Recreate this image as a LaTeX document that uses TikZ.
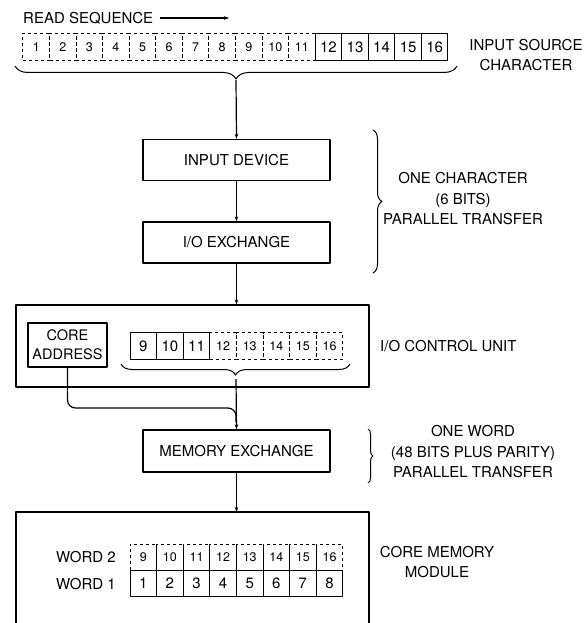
\documentclass[tikz,border=0pt]{standalone}
\usepackage{fontspec}
\setmainfont{TeX Gyre Heros}
\usetikzlibrary{arrows.meta,decorations.pathreplacing,positioning}

\tikzset{
    lbl/.style={font=\fontsize{15}{20.5}\selectfont, inner sep=1pt},
    box/.style={draw, line width=1.3pt, minimum width=187pt, minimum height=41pt,
        font=\fontsize{15}{20}\selectfont},
    cell/.style={draw, line width=1pt, minimum width=26.6pt, minimum height=27pt,
        inner sep=0pt, font=\fontsize{15}{16}\selectfont},
    dcell/.style={cell, dashed, font=\fontsize{12.5}{13}\selectfont},
    arr/.style={line width=1.2pt, -{Stealth[length=5pt,width=3.5pt]}},
    brc/.style={line width=1pt, decorate, decoration={brace, amplitude=#1}},
}

\begin{document}
\begin{tikzpicture}[x=1pt,y=-1pt,line join=round]
    \useasboundingbox (0,0) rectangle (585,623);

    % source character
    \node[lbl, anchor=west] (readseq) at (22,18) {READ SEQUENCE};
    \coordinate (readend) at (229,18);
    \draw[arr] ([xshift=6pt]readseq.east) -- (readend);

    \foreach \i in {1,...,11} {
        \node[dcell] (src\i) at ({23+26.56*(\i-0.5)},47) {\i};
    }
    \foreach \i in {12,...,16} {
        \node[cell] (src\i) at ({23+26.56*(\i-0.5)},47) {\i};
    }
    \node[lbl, align=center] (srclbl) at (526,55) {INPUT SOURCE\\CHARACTER};

    \draw[brc=13pt] (457,66) -- (15,66);
    \coordinate (srcbr) at (236,80);

    % character transfer
    \node[box] (indev) at (236.5,160) {INPUT DEVICE};
    \node[box] (ioex) at (236.5,242.5) {I/O EXCHANGE};
    \draw[arr] (srcbr) -- (indev.north);
    \draw[arr] (indev) -- (ioex);

    \draw[brc=9pt] (373,130) -- (373,273);
    \node[lbl, align=center] (charlbl) at (463,199) {ONE CHARACTER\\(6 BITS)\\PARALLEL TRANSFER};

    % control unit
    \node[draw, line width=1.3pt, minimum width=353pt, minimum height=82pt] (ctrl) at (192.5,346) {};
    \draw[arr] (ioex.south) -- (ioex.south |- ctrl.north);
    \node[draw, line width=1.3pt, minimum width=79pt, minimum height=44pt, align=center,
        inner sep=0pt, font=\fontsize{14.5}{19}\selectfont] (addr) at (67.5,345) {CORE\\ADDRESS};

    \foreach \i in {9,10,11} {
        \node[cell] (buf\i) at ({130+26.6*(\i-8.5)},346) {\i};
    }
    \foreach \i in {12,...,16} {
        \node[dcell] (buf\i) at ({130+26.6*(\i-8.5)},346) {\i};
    }
    \node[lbl, anchor=west] (ctrllbl) at (379,346) {I/O CONTROL UNIT};

    \draw[brc=11pt] (350,364) -- (121,364);
    \coordinate (ctrlbr) at (236,379);

    % word transfer
    \node[box, minimum height=42pt] (memx) at (236.5,451) {MEMORY EXCHANGE};
    \draw[arr] (ctrlbr) -- (memx.north);
    \draw[line width=1.2pt, rounded corners=8pt] (addr.south) |- (236,408) -- (236,422);

    \draw[brc=5pt] (368,429) -- (368,483);
    \node[lbl, align=center] (wordlbl) at (473,452) {ONE WORD\\(48 BITS PLUS PARITY)\\PARALLEL TRANSFER};

    % core memory
    \coordinate (memtop) at (236.5,512);
    \draw[line width=1.3pt] (16,623) -- (16,512) -- (369,512) -- (369,623);
    \draw[arr] (memx.south) -- (memtop);

    \foreach \i in {1,...,8} {
        \pgfmathtruncatemacro{\j}{\i+8}
        \node[dcell, minimum height=26pt] (wtwo\i) at ({130+26.6*(\i-0.5)},557) {\j};
        \node[cell, minimum height=26pt] (wone\i) at ({130+26.6*(\i-0.5)},583.5) {\i};
    }
    \node[lbl, anchor=east] (wtwolbl) at (117,557) {WORD 2};
    \node[lbl, anchor=east] (wonelbl) at (117,584) {WORD 1};
    \node[lbl, align=center] (memlbl) at (437,562) {CORE MEMORY\\MODULE};
\end{tikzpicture}
\end{document}
